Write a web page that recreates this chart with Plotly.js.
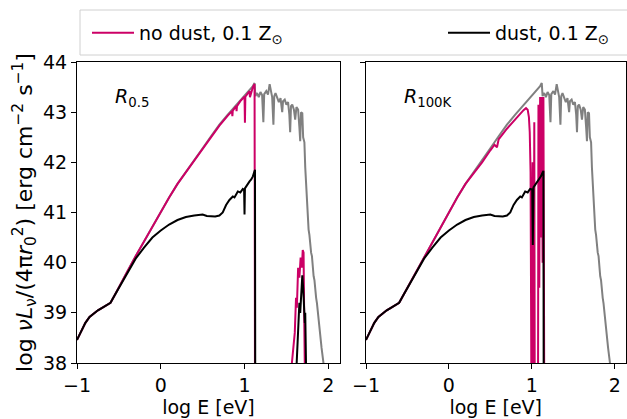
<!DOCTYPE html>
<html>
<head>
<meta charset="utf-8">
<script src="https://cdn.plot.ly/plotly-3.0.1.min.js"></script>
<style>html,body{margin:0;padding:0;background:#fff;}#chart{width:627px;height:419px;}</style>
</head>
<body>
<div id="chart"></div>
<script>
// ---------- data ----------
// incident spectrum (grey), same in both panels
const grayX = [-1, -0.95, -0.9, -0.85, -0.8, -0.75, -0.7, -0.65, -0.6, -0.55, -0.5, -0.4, -0.3, -0.2, -0.1, 0, 0.1, 0.2, 0.3, 0.4, 0.5, 0.6, 0.7, 0.8, 0.9, 1.0, 1.05, 1.1, 1.12,
  1.13, 1.15, 1.17, 1.19, 1.21, 1.225, 1.235, 1.26, 1.28, 1.30, 1.315, 1.33, 1.345, 1.355, 1.37, 1.39, 1.41, 1.43, 1.45, 1.46, 1.48, 1.50, 1.52, 1.535, 1.545, 1.555, 1.57, 1.59, 1.605, 1.62, 1.64, 1.655, 1.665, 1.675, 1.69, 1.70, 1.715, 1.725, 1.735, 1.745, 1.755, 1.765, 1.775, 1.785, 1.795, 1.805, 1.815, 1.825, 1.835, 1.845, 1.855, 1.865, 1.875, 1.885, 1.895, 1.905, 1.92, 1.935, 1.95];
const grayY = [38.46, 38.63, 38.8, 38.92, 38.99, 39.05, 39.1, 39.15, 39.2, 39.35, 39.5, 39.82, 40.13, 40.43, 40.73, 41.02, 41.3, 41.57, 41.8, 42.03, 42.28, 42.52, 42.75, 42.95, 43.14, 43.32, 43.42, 43.52, 43.58,
  43.32, 43.38, 43.30, 43.40, 43.34, 42.8, 43.36, 43.42, 43.35, 43.56, 43.38, 43.3, 42.75, 43.32, 43.38, 43.30, 43.2, 43.28, 43.0, 43.22, 43.25, 43.15, 43.2, 42.95, 42.6, 43.12, 43.15, 43.05, 42.85, 43.1, 43.05, 42.7, 42.42, 43.0, 42.98, 42.5, 42.4, 41.9, 41.5, 41.1, 40.95, 40.66, 40.55, 40.3, 40.2, 40.13, 39.85, 39.73, 39.65, 39.4, 39.3, 39.19, 39.0, 38.85, 38.65, 38.5, 38.3, 38.1, 37.9];

// R_0.5 panel
const noDustLeftX = [-1, -0.95, -0.9, -0.85, -0.8, -0.75, -0.7, -0.65, -0.6, -0.55, -0.5, -0.4, -0.3, -0.2, -0.1, 0, 0.1, 0.2, 0.3, 0.4, 0.45, 0.5, 0.55, 0.6, 0.7, 0.8, 0.85, 0.855, 0.86, 0.9, 0.905, 0.91, 0.95, 1.0, 1.005, 1.01, 1.05, 1.06, 1.065, 1.1, 1.12, 1.125, null,
  1.56, 1.58, 1.60, 1.615, 1.625, 1.64, 1.655, 1.67, 1.685, 1.695, 1.705, 1.712, 1.72];
const noDustLeftY = [38.46, 38.63, 38.8, 38.92, 38.99, 39.05, 39.1, 39.15, 39.2, 39.35, 39.5, 39.82, 40.13, 40.43, 40.73, 41.02, 41.3, 41.57, 41.8, 42.03, 42.15, 42.27, 42.38, 42.5, 42.73, 42.93, 43.02, 42.92, 43.03, 43.12, 43.02, 43.12, 43.22, 43.31, 42.79, 43.31, 43.4, 43.42, 43.3, 43.5, 43.56, 37.5, null,
  37.9, 38.3, 38.6, 39.3, 39.1, 39.9, 39.7, 40.1, 39.9, 40.25, 40.2, 39.0, 37.9];
const dustLeftX = [-1, -0.95, -0.9, -0.85, -0.8, -0.75, -0.7, -0.65, -0.6, -0.55, -0.5, -0.4, -0.35, -0.3, -0.2, -0.1, 0, 0.1, 0.2, 0.3, 0.4, 0.5, 0.55, 0.6, 0.65, 0.7, 0.74, 0.78, 0.82, 0.86, 0.88, 0.9, 0.92, 0.95, 0.98, 0.995, 1.0, 1.005, 1.03, 1.06, 1.08, 1.1, 1.115, 1.125, 1.128, null,
  1.62, 1.64, 1.655, 1.665, 1.68, 1.69, 1.70, 1.71, 1.72, 1.725, 1.735];
const dustLeftY = [38.46, 38.63, 38.8, 38.92, 38.99, 39.05, 39.1, 39.15, 39.2, 39.35, 39.5, 39.8, 39.95, 40.08, 40.3, 40.5, 40.64, 40.76, 40.85, 40.91, 40.94, 40.96, 40.93, 40.93, 40.92, 40.94, 41.0, 41.15, 41.25, 41.32, 41.3, 41.36, 41.42, 41.4, 41.47, 41.45, 40.96, 41.48, 41.55, 41.62, 41.66, 41.72, 41.8, 41.85, 37.5, null,
  37.9, 38.7, 39.2, 39.0, 39.7, 39.75, 39.5, 39.2, 38.8, 39.0, 37.9];

// R_100K panel
const noDustRightX = [-1, -0.95, -0.9, -0.85, -0.8, -0.75, -0.7, -0.65, -0.6, -0.55, -0.5, -0.4, -0.3, -0.2, -0.1, 0, 0.1, 0.2, 0.3, 0.4, 0.5, 0.55, 0.58, 0.6, 0.7, 0.8, 0.85, 0.88, 0.9, 0.93, 0.95, 0.965, 0.975, 0.985, 0.995, 1.005, 1.01, 1.02, 1.03, 1.035, 1.045, 1.075, 1.08, 1.09, 1.10, 1.11, 1.12, 1.13, 1.14, 1.15];
const noDustRightY = [38.46, 38.63, 38.8, 38.92, 38.99, 39.05, 39.1, 39.15, 39.2, 39.35, 39.5, 39.82, 40.13, 40.43, 40.73, 41.02, 41.3, 41.57, 41.78, 42.0, 42.24, 42.35, 42.3, 42.46, 42.67, 42.86, 42.95, 42.99, 43.04, 43.08, 43.05, 42.9, 42.6, 41.8, 37.5, 37.5, 42.0, 37.5, 42.8, 37.5, 37.5, 37.5, 43.15, 39.5, 43.3, 40.5, 43.3, 40.0, 43.3, 37.5];
const dustRightX = [-1, -0.95, -0.9, -0.85, -0.8, -0.75, -0.7, -0.65, -0.6, -0.55, -0.5, -0.4, -0.35, -0.3, -0.2, -0.1, 0, 0.1, 0.2, 0.3, 0.4, 0.5, 0.55, 0.6, 0.65, 0.7, 0.74, 0.78, 0.82, 0.86, 0.88, 0.9, 0.92, 0.95, 0.98, 1.005, 1.012, 1.02, 1.04, 1.07, 1.09, 1.11, 1.125, 1.14, 1.143];
const dustRightY = [38.46, 38.63, 38.8, 38.92, 38.99, 39.05, 39.1, 39.15, 39.2, 39.35, 39.5, 39.8, 39.95, 40.08, 40.3, 40.5, 40.64, 40.76, 40.85, 40.91, 40.94, 40.96, 40.93, 40.93, 40.92, 40.94, 41.0, 41.15, 41.25, 41.32, 41.3, 41.36, 41.42, 41.4, 41.47, 41.46, 40.35, 41.5, 41.55, 41.62, 41.66, 41.72, 41.78, 41.83, 37.5];

const legendNames = ["no dust, 0.1 Z<sub>⊙</sub>", "dust, 0.1 Z<sub>⊙</sub>"];
const panelLabels = ["<i>R</i><sub>0.5</sub>", "<i>R</i><sub>100K</sub>"];
const xTicks = [-1, 0, 1, 2];
const yTicks = [38, 39, 40, 41, 42, 43, 44];

// ---------- styling ----------
const GRAY = "#808080", MAG = "#cc0066", BLK = "#000000";
const FONT = "DejaVu Sans";
const LW = 2;

const traces = [
  {x: grayX, y: grayY, xaxis: "x", yaxis: "y", mode: "lines", line: {color: GRAY, width: LW}, showlegend: false, hoverinfo: "skip"},
  {x: noDustLeftX, y: noDustLeftY, xaxis: "x", yaxis: "y", mode: "lines", line: {color: MAG, width: LW}, name: legendNames[0], legend: "legend"},
  {x: dustLeftX, y: dustLeftY, xaxis: "x", yaxis: "y", mode: "lines", line: {color: BLK, width: LW}, name: legendNames[1], legend: "legend2"},
  {x: grayX, y: grayY, xaxis: "x2", yaxis: "y2", mode: "lines", line: {color: GRAY, width: LW}, showlegend: false, hoverinfo: "skip"},
  {x: noDustRightX, y: noDustRightY, xaxis: "x2", yaxis: "y2", mode: "lines", line: {color: MAG, width: LW}, showlegend: false},
  {x: dustRightX, y: dustRightY, xaxis: "x2", yaxis: "y2", mode: "lines", line: {color: BLK, width: LW}, showlegend: false}
];

const W = 627, H = 419;
const mL = 77, mR = 1, mT = 62, mB = 56;
const pw = W - mL - mR, ph = H - mT - mB;
const px2x = p => (p - mL) / pw;
const py2y = p => (H - mB - p) / ph;

const axBase = {
  showline: true, mirror: true, linecolor: "#000", linewidth: 1,
  ticks: "outside", ticklen: 5, tickwidth: 1, tickcolor: "#000",
  showgrid: false, zeroline: false,
  tickfont: {family: FONT, size: 19, color: "#000"}
};
const tickText = xTicks.map(v => v < 0 ? "\u2212" + Math.abs(v) : String(v));

const legBase = {
  orientation: "h", xanchor: "left", y: py2y(33), yanchor: "middle",
  font: {family: FONT, size: 19, color: "#000"},
  bgcolor: "rgba(0,0,0,0)", borderwidth: 0, itemwidth: 42
};

const layout = {
  width: W, height: H,
  margin: {l: mL, r: mR, t: mT, b: mB},
  paper_bgcolor: "#fff", plot_bgcolor: "#fff",
  font: {family: FONT, size: 19, color: "#000"},
  xaxis: Object.assign({}, axBase, {domain: [0, px2x(340)], range: [-1, 2.14], tickvals: xTicks, ticktext: tickText, anchor: "y",
    title: {text: "log E [eV]", font: {family: FONT, size: 19}, standoff: 2}}),
  xaxis2: Object.assign({}, axBase, {domain: [px2x(366), px2x(625.5)], range: [-1, 2.13], tickvals: xTicks, ticktext: tickText, anchor: "y2",
    title: {text: "log E [eV]", font: {family: FONT, size: 19}, standoff: 2}}),
  yaxis: Object.assign({}, axBase, {range: [38, 44], tickvals: yTicks, anchor: "x",
    title: {text: "log <i>νL</i><sub>ν</sub>/(4π<i>r</i><sub>0</sub><sup>2</sup>) [erg cm<sup>−2</sup> s<sup>−1</sup>]", font: {family: FONT, size: 22}, standoff: 4}}),
  yaxis2: Object.assign({}, axBase, {range: [38, 44], tickvals: yTicks, anchor: "x2", showticklabels: false}),
  showlegend: true,
  legend: Object.assign({}, legBase, {x: px2x(87)}),
  legend2: Object.assign({}, legBase, {x: px2x(443)}),
  shapes: [
    {type: "rect", xref: "paper", yref: "paper", x0: px2x(80), x1: px2x(640), y0: py2y(55), y1: py2y(10),
      line: {color: "#d0d0d0", width: 1}, fillcolor: "rgba(255,255,255,0.8)", layer: "below"}
  ],
  annotations: [
    {xref: "x", yref: "y", x: -0.57, y: 43.3, xanchor: "left", yanchor: "middle", text: panelLabels[0], showarrow: false, font: {family: FONT, size: 19, color: "#000"}},
    {xref: "x2", yref: "y2", x: -0.566, y: 43.3, xanchor: "left", yanchor: "middle", text: panelLabels[1], showarrow: false, font: {family: FONT, size: 19, color: "#000"}}
  ]
};

Plotly.newPlot("chart", traces, layout, {staticPlot: true, displayModeBar: false});
</script>
</body>
</html>
